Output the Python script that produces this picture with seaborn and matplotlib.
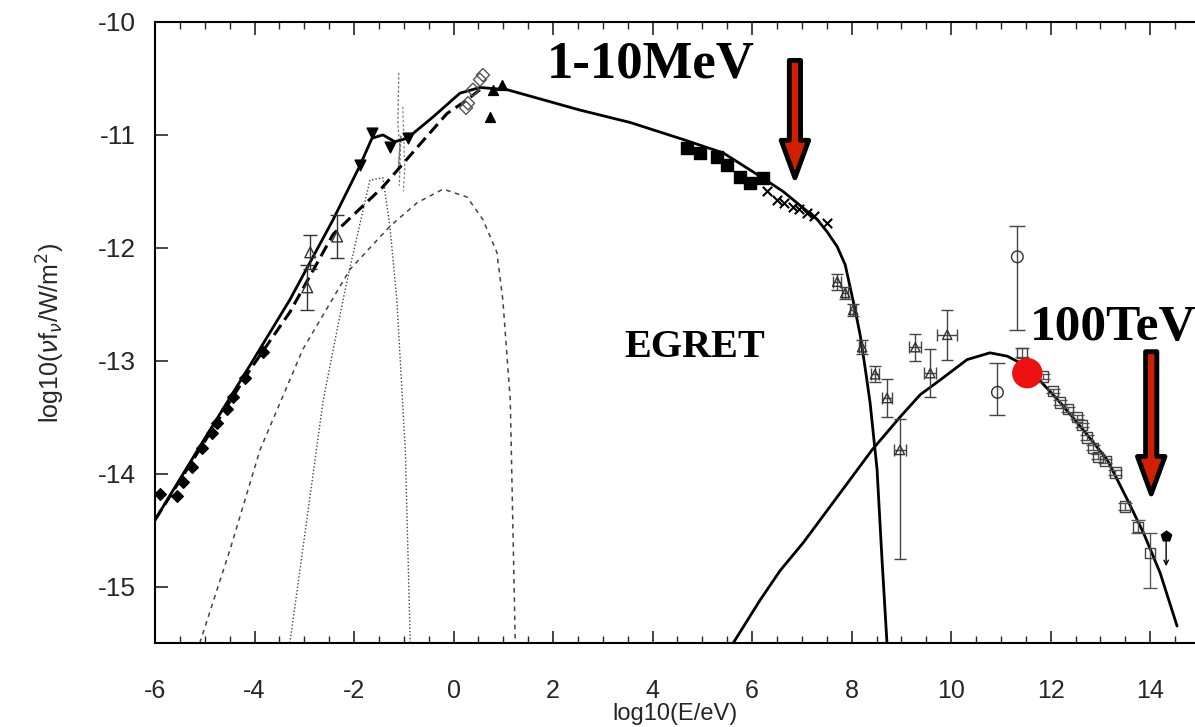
import numpy as np
import pandas as pd
import matplotlib
matplotlib.use("Agg")
import matplotlib.pyplot as plt
import seaborn as sns

# ---------------- data ----------------
# total synchrotron model (solid)
sync_x = [-6.00, -5.10, -4.09, -3.29, -2.42, -1.88, -1.64, -1.42, -1.18, -0.93, -0.41,
          0.13, 0.53, 1.08, 2.54, 3.55, 4.61, 5.42, 6.10, 6.62, 7.31, 7.51, 7.71, 7.87,
          7.97, 8.07, 8.17, 8.27, 8.37, 8.51, 8.61, 8.71]
sync_y = [-14.41, -13.76, -13.04, -12.46, -11.75, -11.27, -11.03, -11.00, -11.06, -11.03,
          -10.84, -10.63, -10.58, -10.60, -10.78, -10.89, -11.04, -11.16, -11.35, -11.50,
          -11.75, -11.86, -11.99, -12.15, -12.35, -12.55, -12.77, -13.06, -13.37, -13.96,
          -14.76, -15.50]
# alternative model (thick dashed)
alt_x = [-6.00, -4.09, -3.29, -2.42, -1.42, -0.73, -0.13, 0.27, 0.53]
alt_y = [-14.41, -13.08, -12.57, -11.88, -11.46, -11.11, -10.81, -10.69, -10.60]
# broad component (thin dashed)
broad_x = [-5.10, -4.49, -3.89, -3.03, -2.08, -1.28, -0.73, -0.21, 0.27, 0.59, 0.87, 0.99,
           1.14, 1.24]
broad_y = [-15.50, -14.67, -13.79, -12.90, -12.19, -11.81, -11.60, -11.48, -11.55, -11.75,
           -12.04, -12.46, -13.35, -15.50]
# narrow component (dotted)
narrow_x = [-3.29, -3.03, -2.62, -2.22, -2.08, -1.68, -1.42, -1.28, -1.14, -0.97, -0.87]
narrow_y = [-15.50, -14.67, -13.35, -12.46, -12.17, -11.40, -11.38, -11.81, -12.46, -13.79, -15.50]
# inverse Compton model (solid)
ic_x = [5.62, 6.16, 6.56, 7.03, 7.67, 8.41, 8.97, 9.38, 9.78, 10.32, 10.78, 11.13, 11.39,
        11.73, 12.19, 12.65, 13.14, 13.54, 13.86, 14.20, 14.54]
ic_y = [-15.50, -15.12, -14.86, -14.61, -14.23, -13.79, -13.50, -13.30, -13.17, -12.99,
        -12.93, -12.96, -13.02, -13.15, -13.37, -13.61, -13.88, -14.23, -14.52, -14.88, -15.35]
# spiky optical variability traces (thin dashed)
spike_x = [-1.10, -1.12, -1.08, -1.11, -1.06, -1.09]
spike_y = [-10.45, -10.9, -11.1, -11.3, -11.0, -11.45]
spike2_x = [-1.02, -1.00, -0.98, -1.01]
spike2_y = [-10.75, -11.05, -11.30, -11.50]

# radio data (filled diamonds)
radio_x = [-5.90, -5.56, -5.44, -5.26, -5.06, -4.85, -4.75, -4.55, -4.43, -4.19, -3.83]
radio_y = [-14.18, -14.20, -14.07, -13.94, -13.77, -13.64, -13.55, -13.43, -13.32, -13.15, -12.92]
# mm data (open triangles with error bars)
mm_x = [-2.88, -2.94, -2.34]
mm_y = [-12.04, -12.35, -11.90]
mm_err = [0.15, 0.20, 0.19]
# infrared (filled down triangles)
ir_x = [-1.64, -1.28, -1.88, -0.91]
ir_y = [-10.98, -11.11, -11.27, -11.03]
# optical (open diamonds)
opt_x = [0.59, 0.53, 0.39, 0.29, 0.25]
opt_y = [-10.47, -10.51, -10.60, -10.72, -10.76]
# UV (filled triangles)
uv_x = [0.73, 0.97, 0.79]
uv_y = [-10.84, -10.56, -10.60]
# X-ray (filled squares)
xsq_x = [4.69, 4.95, 5.30, 5.50, 5.76, 5.96, 6.22]
xsq_y = [-11.12, -11.16, -11.20, -11.27, -11.37, -11.43, -11.38]
# hard X-ray (crosses)
hx_x = [6.30, 6.50, 6.65, 6.82, 6.95, 7.11, 7.25, 7.51]
hx_y = [-11.50, -11.58, -11.60, -11.64, -11.66, -11.69, -11.72, -11.78]
# EGRET (open triangles with error bars)
eg_x = [7.71, 7.87, 8.03, 8.21, 8.47, 8.71, 8.97, 9.28, 9.58, 9.92]
eg_y = [-12.30, -12.40, -12.55, -12.88, -13.12, -13.33, -13.79, -12.88, -13.11, -12.77]
eg_lo = [0.07, 0.05, 0.05, 0.06, 0.07, 0.17, 0.97, 0.12, 0.21, 0.22]
eg_hi = [0.07, 0.05, 0.05, 0.06, 0.07, 0.17, 0.27, 0.12, 0.21, 0.22]
eg_xerr = [0.08, 0.06, 0.06, 0.06, 0.08, 0.1, 0.12, 0.12, 0.12, 0.2]
# open circles
oc_x = [11.33, 10.93]
oc_y = [-12.08, -13.28]
oc_lo = [0.65, 0.20]
oc_hi = [0.27, 0.26]
# TeV (open squares)
tev_x = [11.43, 11.85, 12.05, 12.19, 12.35, 12.53, 12.63, 12.73, 12.85, 12.95, 13.10,
         13.30, 13.50, 13.76, 14.00]
tev_y = [-12.93, -13.14, -13.27, -13.37, -13.43, -13.50, -13.57, -13.68, -13.77, -13.85,
         -13.89, -13.99, -14.29, -14.47, -14.70]
tev_lo = [0.04, 0.02, 0.02, 0.02, 0.02, 0.02, 0.02, 0.02, 0.02, 0.02, 0.02, 0.02, 0.03, 0.06, 0.31]
tev_hi = [0.04, 0.02, 0.02, 0.02, 0.02, 0.02, 0.02, 0.02, 0.02, 0.02, 0.02, 0.02, 0.03, 0.06, 0.17]
# upper limit
ul_x = [14.32]
ul_y = [-14.55]
ul_to = [-14.82]
# highlighted point
red_x = [11.53]
red_y = [-13.11]

# annotations
labels = ["1-10MeV", "EGRET", "100TeV"]
label_x = [3.97, 4.85, 13.25]
label_y = [-10.38, -12.88, -12.71]
arrow_x = [6.86, 14.02]
arrow_top = [-10.34, -12.92]
arrow_tip = [-11.38, -14.18]

# ---------------- figure ----------------
sns.set_theme(style="ticks")
plt.rcParams['font.family'] = ['Liberation Sans', 'DejaVu Sans']

fig = plt.figure(figsize=(11.95, 7.27), dpi=100)
ax = fig.add_axes([155/1195, 84/727, 1040/1195, 621/727])

def line(xs, ys, **kw):
    sns.lineplot(x=xs, y=ys, ax=ax, estimator=None, sort=False, legend=False, **kw)

line(broad_x, broad_y, color='#444444', lw=1.1, linestyle=(0, (3, 3)))
line(narrow_x, narrow_y, color='#444444', lw=1.0, linestyle=(0, (1, 1.5)))
line(spike_x, spike_y, color='#777777', lw=0.9, linestyle=(0, (2, 1.5)))
line(spike2_x, spike2_y, color='#888888', lw=0.9, linestyle=(0, (2, 1.5)))
line(alt_x, alt_y, color='black', lw=2.2, linestyle=(0, (4, 2)))
line(sync_x, sync_y, color='black', lw=2.0)
line(ic_x, ic_y, color='black', lw=2.0)

# error bars
ax.errorbar(mm_x, mm_y, yerr=mm_err, fmt='none', ecolor='#333333', elinewidth=1, capsize=5)
ax.errorbar(eg_x, eg_y, yerr=[eg_lo, eg_hi], xerr=eg_xerr, fmt='none', ecolor='#444444',
            elinewidth=1, capsize=4)
ax.errorbar(oc_x, oc_y, yerr=[oc_lo, oc_hi], fmt='none', ecolor='#444444', elinewidth=1, capsize=6)
ax.errorbar(tev_x, tev_y, yerr=[tev_lo, tev_hi], fmt='none', ecolor='#555555', elinewidth=1, capsize=5)

def pts(xs, ys, marker, size, fc, ec='black', lw=1.0):
    sns.scatterplot(x=xs, y=ys, ax=ax, marker=marker, s=size, facecolor=fc,
                    edgecolor=ec, linewidth=lw, legend=False, zorder=4)

pts(radio_x, radio_y, 'D', 35, 'black')
pts(mm_x, mm_y, '^', 60, 'none', '#333333')
pts(ir_x, ir_y, 'v', 60, 'black')
pts(opt_x, opt_y, 'D', 45, 'none', '#555555')
pts(uv_x, uv_y, '^', 50, 'black')
pts(xsq_x, xsq_y, 's', 70, 'black')
pts(hx_x, hx_y, 'x', 45, 'black', '#222222', 1.5)
pts(eg_x, eg_y, '^', 45, 'none', '#333333')
pts(oc_x, oc_y, 'o', 70, 'none', '#333333')
pts(tev_x, tev_y, 's', 55, 'none', '#444444')
pts(ul_x, ul_y, 'p', 60, 'black')
for ux, uy, ut in zip(ul_x, ul_y, ul_to):
    ax.annotate('', xy=(ux, ut), xytext=(ux, uy),
                arrowprops=dict(arrowstyle='->', color='black', lw=1.0,
                                shrinkA=0, shrinkB=0, mutation_scale=8))
sns.scatterplot(x=red_x, y=red_y, ax=ax, s=480, color='#ee1111', edgecolor='none',
                legend=False, zorder=6)

# arrows
for ax_x, top, tip in zip(arrow_x, arrow_top, arrow_tip):
    ax.annotate('', xy=(ax_x, tip), xytext=(ax_x, top), annotation_clip=False,
                arrowprops=dict(arrowstyle='simple,head_length=1.5,head_width=1.1,tail_width=0.45',
                                fc='#d02000', ec='black', lw=3.5, shrinkA=0, shrinkB=0,
                                mutation_scale=18), zorder=7)

# text labels
sizes = [38, 29, 37]
for t, tx, ty, fs in zip(labels, label_x, label_y, sizes):
    ax.text(tx, ty, t, ha='center', va='center', fontsize=fs, fontweight='bold',
            family='Liberation Serif', color='black', clip_on=False, zorder=8)

# axes styling
ax.set_xlim(-6, 14.9)
ax.set_ylim(-15.5, -10)
ax.set_xticks(np.arange(-6, 15, 2))
ax.set_xticks(np.arange(-6, 15, 0.5), minor=True)
ax.set_yticks(np.arange(-15, -9, 1))
ax.set_xticklabels([str(int(v)) for v in np.arange(-6, 15, 2)])
ax.set_yticklabels([str(int(v)) for v in np.arange(-15, -9, 1)])
ax.tick_params(axis='x', which='major', direction='in', length=9, width=1.2, top=True,
               bottom=True, labelsize=18, pad=26)
ax.tick_params(axis='x', which='minor', direction='in', length=5, width=1.0, top=True, bottom=True)
ax.tick_params(axis='y', which='major', direction='in', length=9, width=1.2, left=True,
               right=False, labelsize=19, pad=14)
for s in ['left', 'top', 'bottom']:
    ax.spines[s].set_visible(True)
    ax.spines[s].set_linewidth(1.5)
    ax.spines[s].set_color('black')
ax.spines['right'].set_visible(False)
ax.set_xlabel('log10(E/eV)', fontsize=17, labelpad=0)
ax.set_ylabel(r'log10($\nu$f$_\nu$/W/m$^2$)', fontsize=18, labelpad=22)
ax.grid(False)
ax.set_facecolor('white')

fig.savefig('out.png', dpi=100, facecolor='white')
